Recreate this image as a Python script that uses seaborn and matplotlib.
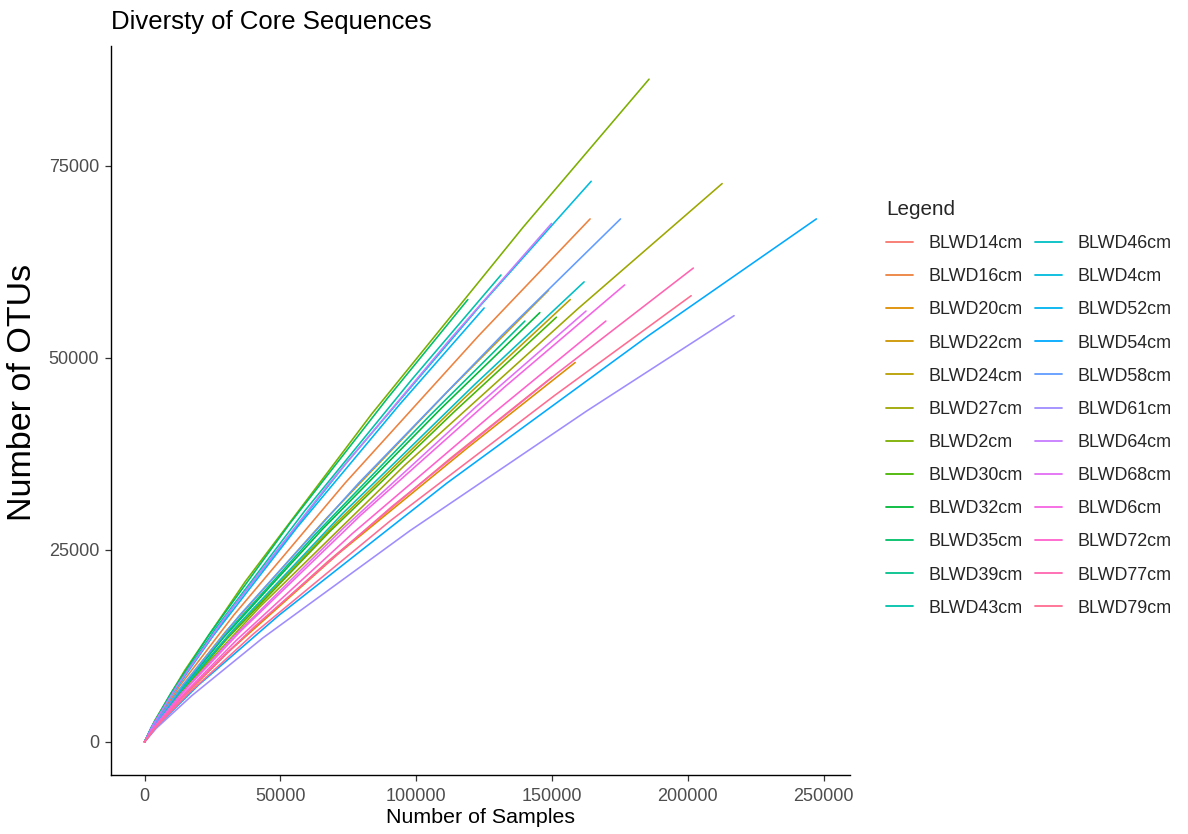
import numpy as np
import pandas as pd
import matplotlib
matplotlib.use("Agg")
import matplotlib.pyplot as plt
import seaborn as sns

# Rarefaction curves: sequencing depth (x) against observed OTUs (y) per sample
samples = ["BLWD14cm", "BLWD16cm", "BLWD20cm", "BLWD22cm", "BLWD24cm", "BLWD27cm",
           "BLWD2cm", "BLWD30cm", "BLWD32cm", "BLWD35cm", "BLWD39cm", "BLWD43cm",
           "BLWD46cm", "BLWD4cm", "BLWD52cm", "BLWD54cm", "BLWD58cm", "BLWD61cm",
           "BLWD64cm", "BLWD68cm", "BLWD6cm", "BLWD72cm", "BLWD77cm", "BLWD79cm"]

depths = [
    [0, 3000, 12000, 30000, 67500, 112500, 150000],
    [0, 3280, 13120, 32800, 73800, 123000, 164000],
    [0, 3170, 12680, 31700, 71300, 118900, 158500],
    [0, 2970, 11900, 29700, 66900, 111500, 148700],
    [0, 3130, 12540, 31300, 70500, 117500, 156700],
    [0, 4250, 17010, 42500, 95700, 159500, 212600],
    [0, 3710, 14860, 37100, 83600, 139300, 185700],
    [0, 3030, 12130, 30300, 68200, 113700, 151600],
    [0, 2910, 11640, 29100, 65500, 109100, 145500],
    [0, 2380, 9520, 23800, 53600, 89300, 119000],
    [0, 2800, 11200, 28000, 63000, 105000, 140000],
    [0, 2620, 10500, 26200, 59000, 98400, 131200],
    [0, 3240, 12940, 32400, 72800, 121400, 161800],
    [0, 3290, 13150, 32900, 74000, 123300, 164400],
    [0, 2500, 10000, 25000, 56300, 93800, 125000],
    [0, 4950, 19780, 49500, 111300, 185500, 247300],
    [0, 3500, 14020, 35000, 78800, 131400, 175200],
    [0, 4340, 17360, 43400, 97700, 162800, 217000],
    [0, 3000, 11980, 30000, 67400, 112400, 149800],
    [0, 3250, 13000, 32500, 73100, 121900, 162500],
    [0, 3530, 14140, 35300, 79500, 132500, 176700],
    [0, 3400, 13580, 34000, 76400, 127400, 169800],
    [0, 4040, 16160, 40400, 90900, 151500, 202000],
    [0, 4020, 16100, 40200, 90500, 150900, 201200],
]

otus = [
    [0, 1520, 5140, 11500, 23500, 36900, 47500],
    [0, 2180, 7380, 16500, 33700, 52900, 68100],
    [0, 1580, 5350, 12000, 24500, 38300, 49400],
    [0, 1880, 6370, 14300, 29100, 45600, 58800],
    [0, 1840, 6240, 14000, 28500, 44700, 57600],
    [0, 2330, 7870, 17600, 36000, 56400, 72700],
    [0, 2760, 9350, 20900, 42700, 67000, 86300],
    [0, 1770, 5990, 13400, 27400, 42900, 55300],
    [0, 1790, 6050, 13600, 27700, 43400, 55900],
    [0, 1840, 6240, 14000, 28500, 44700, 57600],
    [0, 1750, 5930, 13300, 27100, 42500, 54800],
    [0, 1950, 6580, 14800, 30100, 47200, 60800],
    [0, 1920, 6490, 14500, 29700, 46500, 59900],
    [0, 2340, 7910, 17700, 36200, 56700, 73000],
    [0, 1810, 6120, 13700, 28000, 43900, 56500],
    [0, 2180, 7380, 16500, 33700, 52900, 68100],
    [0, 2180, 7380, 16500, 33700, 52900, 68100],
    [0, 1780, 6010, 13500, 27500, 43100, 55500],
    [0, 2160, 7310, 16400, 33400, 52400, 67500],
    [0, 1800, 6080, 13600, 27800, 43600, 56100],
    [0, 1900, 6440, 14400, 29500, 46200, 59500],
    [0, 1750, 5930, 13300, 27100, 42500, 54800],
    [0, 1970, 6680, 15000, 30600, 47900, 61700],
    [0, 1860, 6290, 14100, 28800, 45100, 58100],
]

x_ticks = [0, 50000, 100000, 150000, 200000, 250000]
y_ticks = [0, 25000, 50000, 75000]


def hcl_hex(h, c=100.0, l=65.0):
    """Polar CIE-Luv colour to an sRGB hex string (D65 white)."""
    xn, yn, zn = 95.047, 100.0, 108.883
    un = 4 * xn / (xn + 15 * yn + 3 * zn)
    vn = 9 * yn / (xn + 15 * yn + 3 * zn)
    u = c * np.cos(np.radians(h))
    v = c * np.sin(np.radians(h))
    Y = yn * ((l + 16) / 116) ** 3 if l > 8 else yn * l / 903.3
    up = u / (13 * l) + un
    vp = v / (13 * l) + vn
    X = 9.0 * Y * up / (4 * vp)
    Z = -X / 3 - 5 * Y + 3 * Y / vp
    xyz = np.array([X, Y, Z]) / 100.0
    m = np.array([[3.240479, -1.537150, -0.498535],
                  [-0.969256, 1.875992, 0.041556],
                  [0.055648, -0.204043, 1.057311]])
    rgb = m @ xyz
    rgb = np.where(rgb <= 0.0031308, 12.92 * rgb,
                   1.055 * np.power(np.clip(rgb, 0, None), 1 / 2.4) - 0.055)
    rgb = np.clip(rgb, 0, 1)
    return "#%02x%02x%02x" % tuple(int(round(v * 255)) for v in rgb)


n = len(samples)
hues = np.linspace(15, 375, n + 1)[:-1]
palette = [hcl_hex(h) for h in hues]

rows = []
for name, xs, ys in zip(samples, depths, otus):
    for xv, yv in zip(xs, ys):
        rows.append({"Sample": name, "Samples": xv, "OTUs": yv})
df = pd.DataFrame(rows)

sns.set_theme(style="white")
plt.rcParams["font.family"] = ["Liberation Sans", "DejaVu Sans"]

fig = plt.figure(figsize=(11.88, 8.34), dpi=100)
W, H = 1188, 834
ax_l, ax_r, ax_t, ax_b = 111, 850, 46, 775
ax = fig.add_axes([ax_l / W, 1 - ax_b / H, (ax_r - ax_l) / W, (ax_b - ax_t) / H])

sns.lineplot(data=df, x="Samples", y="OTUs", hue="Sample", hue_order=samples,
             palette=palette, estimator=None, sort=False, linewidth=1.15, ax=ax,
             legend=True)

xmax = max(max(d) for d in depths)
ymax = max(max(o) for o in otus)
ax.set_xlim(-0.05 * xmax, 1.05 * xmax)
ax.set_ylim(-0.05 * ymax, 1.05 * ymax)
ax.set_xticks(x_ticks)
ax.set_yticks(y_ticks)
ax.set_xticklabels([str(t) for t in x_ticks])
ax.set_yticklabels([str(t) for t in y_ticks])

for side in ["top", "right"]:
    ax.spines[side].set_visible(False)
for side in ["left", "bottom"]:
    ax.spines[side].set_color("black")
    ax.spines[side].set_linewidth(1.0)

ax.tick_params(axis="both", which="major", length=4.5, width=0.9, color="#333333",
               labelsize=13, labelcolor="#4d4d4d", direction="out", bottom=True, left=True)
ax.tick_params(axis="x", pad=5)
ax.tick_params(axis="y", pad=4)

ax.set_xlabel("Number of Samples", fontsize=15.4, color="black", labelpad=2)
ax.set_ylabel("Number of OTUs", fontsize=24.5, color="black")
ax.yaxis.set_label_coords(-0.099, 0.525)
ax.set_title("Diversty of Core Sequences", loc="left", fontsize=18.5, color="black", pad=12)

handles, labels = ax.get_legend_handles_labels()
leg = ax.legend(handles, labels, title="Legend", ncol=2, frameon=False,
                loc="upper left", bbox_to_anchor=(870 / W, 1 - 184 / H),
                bbox_transform=fig.transFigure, fontsize=12.9, title_fontsize=14.9,
                handlelength=1.5, handletextpad=0.85, labelspacing=0.9,
                columnspacing=0.7, alignment="left")
for line in leg.get_lines():
    line.set_linewidth(1.3)

fig.savefig("out.png", dpi=100, facecolor="white")
